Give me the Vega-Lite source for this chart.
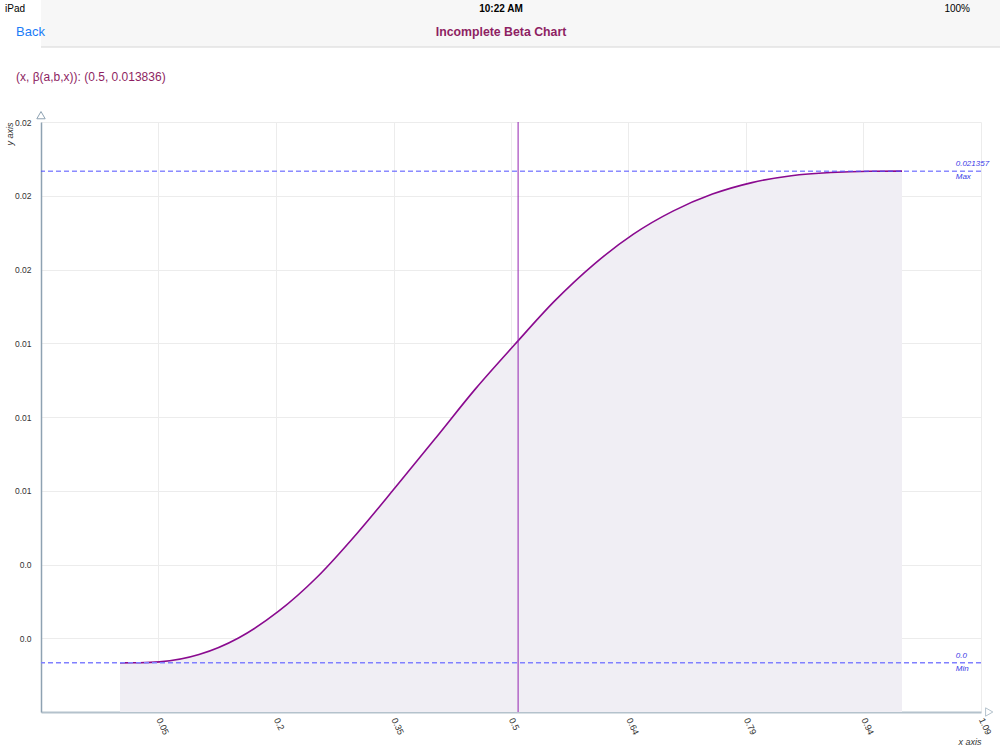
{
  "$schema": "https://vega.github.io/schema/vega-lite/v6.json",
  "background": "white",
  "padding": {"left": 5, "top": 0, "right": 0, "bottom": 0},
  "config": {"font": "Liberation Sans", "view": {"stroke": null}},
  "datasets": {
    "header": [
      {"label": "iPad", "col": "left", "bar": "status"},
      {"label": "10:22 AM", "col": "center", "bar": "status"},
      {"label": "100%", "col": "right", "bar": "status"},
      {"label": "Back", "col": "left", "bar": "nav"},
      {"label": "Incomplete Beta Chart", "col": "center", "bar": "nav"}
    ],
    "curve": [
      {"x": 0.0, "y": 0.0},
      {"x": 0.025, "y": 0.000005},
      {"x": 0.05, "y": 0.00004},
      {"x": 0.1, "y": 0.00036},
      {"x": 0.15, "y": 0.00108},
      {"x": 0.2, "y": 0.00222},
      {"x": 0.25, "y": 0.00374},
      {"x": 0.3, "y": 0.00562},
      {"x": 0.35, "y": 0.00768},
      {"x": 0.4, "y": 0.00978},
      {"x": 0.45, "y": 0.0119},
      {"x": 0.5, "y": 0.013836},
      {"x": 0.55, "y": 0.01571},
      {"x": 0.6, "y": 0.01731},
      {"x": 0.65, "y": 0.01862},
      {"x": 0.7, "y": 0.01962},
      {"x": 0.75, "y": 0.02036},
      {"x": 0.8, "y": 0.02086},
      {"x": 0.85, "y": 0.02116},
      {"x": 0.9, "y": 0.0213},
      {"x": 0.95, "y": 0.021352},
      {"x": 0.99, "y": 0.021357}
    ],
    "levels": [
      {"name": "Max", "value": 0.021357, "label": "0.021357"},
      {"name": "Min", "value": 0.0, "label": "0.0"}
    ],
    "cursor": [{"x": 0.504, "y": 0.013836}]
  },
  "concat": [
    {
      "width": 960,
      "height": 47,
      "view": {"fill": "#f7f7f7", "stroke": null},
      "data": {"name": "header"},
      "encoding": {
        "x": {"field": "col", "type": "nominal", "scale": {"type": "point", "domain": ["left", "center", "right"], "padding": 0}, "axis": null},
        "y": {"field": "bar", "type": "nominal", "scale": {"type": "point", "domain": ["status", "nav", "edge"], "padding": 0}, "axis": null}
      },
      "layer": [
        {"transform": [{"filter": "datum.label === 'iPad'"}], "mark": {"type": "text", "align": "left", "baseline": "middle", "dx": -36, "dy": 9, "fontSize": 10, "color": "#000000"}, "encoding": {"text": {"field": "label"}}},
        {"transform": [{"filter": "datum.label === '10:22 AM'"}], "mark": {"type": "text", "align": "center", "baseline": "middle", "dx": -20, "dy": 9, "fontSize": 10, "fontWeight": "bold", "color": "#000000"}, "encoding": {"text": {"field": "label"}}},
        {"transform": [{"filter": "datum.label === '100%'"}], "mark": {"type": "text", "align": "right", "baseline": "middle", "dx": -31, "dy": 9, "fontSize": 10, "color": "#000000"}, "encoding": {"text": {"field": "label"}}},
        {"transform": [{"filter": "datum.label === 'Back'"}], "mark": {"type": "text", "align": "left", "baseline": "middle", "dx": -25, "dy": 8, "fontSize": 13, "color": "#1b7cf7"}, "encoding": {"text": {"field": "label"}}},
        {"transform": [{"filter": "datum.label === 'Incomplete Beta Chart'"}], "mark": {"type": "text", "align": "center", "baseline": "middle", "dx": -20, "dy": 8, "fontSize": 12.3, "fontWeight": "bold", "color": "#8e1f63"}, "encoding": {"text": {"field": "label"}}},
        {"data": {"values": [{}]}, "mark": {"type": "rule", "color": "#d6d6d6", "strokeWidth": 1}, "encoding": {"x": null, "y": {"datum": "edge", "type": "nominal"}}}
      ]
    },
    {
      "width": 940,
      "height": 590,
      "title": {"text": "(x, β(a,b,x)): (0.5, 0.013836)", "anchor": "start", "frame": "group", "dx": -25, "offset": 26, "fontSize": 12, "fontWeight": "normal", "color": "#8e1f63"},
      "layer": [
        {
          "data": {"name": "curve"},
          "mark": {"type": "area", "color": "#f0eef4", "interpolate": "monotone"},
          "encoding": {
            "x": {"field": "x", "type": "quantitative",
              "scale": {"domain": [-0.1, 1.09], "nice": false, "zero": false},
              "axis": {"values": [-0.1, 0.04875, 0.1975, 0.34625, 0.495, 0.64375, 0.7925, 0.94125, 1.09],
                "labelExpr": "datum.value < 0 ? '' : format(datum.value + 0.000001, '.2~f')",
                "grid": true, "gridColor": "#ececec", "ticks": false, "tickSize": 0,
                "domainColor": "#b4c2cc", "domainWidth": 2,
                "labelAngle": 65, "labelAlign": "left", "labelBaseline": "middle", "labelPadding": 6,
                "labelFontSize": 9, "labelColor": "#333333", "labelFlush": false, "labelOverlap": false,
                "title": "x axis", "titleAnchor": "end", "titleFontStyle": "italic", "titleFontWeight": "normal", "titleFontSize": 9, "titleColor": "#333333", "titlePadding": 2}},
            "y": {"field": "y", "type": "quantitative",
              "scale": {"domain": [-0.0021357, 0.0234927], "nice": false, "zero": false},
              "axis": {"values": [-0.0021357, 0.00106785, 0.0042714, 0.00747495, 0.0106785, 0.01388205, 0.0170856, 0.02028915, 0.0234927],
                "labelExpr": "datum.value < 0 ? '' : (datum.value < 0.005 ? '0.0' : format(datum.value, '.2f'))",
                "grid": true, "gridColor": "#ececec", "ticks": false, "tickSize": 0,
                "domainColor": "#8ea2b2", "domainWidth": 1.5,
                "labelPadding": 10, "labelFontSize": 8.5, "labelColor": "#333333", "labelOverlap": false, "labelFlush": false,
                "title": "y axis", "titleAnchor": "end", "titleFontStyle": "italic", "titleFontWeight": "normal", "titleFontSize": 9, "titleColor": "#333333", "titlePadding": 0}},
            "y2": {"datum": -0.0021357}
          }
        },
        {
          "data": {"name": "curve"},
          "mark": {"type": "line", "color": "#8a0a8f", "strokeWidth": 1.6, "interpolate": "monotone"},
          "encoding": {"x": {"field": "x", "type": "quantitative"}, "y": {"field": "y", "type": "quantitative"}}
        },
        {
          "data": {"name": "levels"},
          "transform": [{"filter": "datum.name === 'Max'"}],
          "mark": {"type": "rule", "color": "#5050ff", "strokeWidth": 1, "strokeDash": [5, 3]},
          "encoding": {"y": {"field": "value", "type": "quantitative"}}
        },
        {
          "data": {"name": "levels"},
          "transform": [{"filter": "datum.name === 'Min'"}],
          "mark": {"type": "rule", "color": "#8080ff", "strokeWidth": 1.5, "strokeDash": [5, 3]},
          "encoding": {"y": {"field": "value", "type": "quantitative"}}
        },
        {
          "data": {"name": "levels"},
          "mark": {"type": "text", "align": "left", "baseline": "middle", "dy": -7, "fontSize": 8, "fontStyle": "italic", "color": "#3a3ae6"},
          "encoding": {"x": {"datum": 1.058}, "y": {"field": "value", "type": "quantitative"}, "text": {"field": "label"}}
        },
        {
          "data": {"name": "levels"},
          "mark": {"type": "text", "align": "left", "baseline": "middle", "dy": 6, "fontSize": 8, "fontStyle": "italic", "color": "#3a3ae6"},
          "encoding": {"x": {"datum": 1.058}, "y": {"field": "value", "type": "quantitative"}, "text": {"field": "name"}}
        },
        {
          "data": {"name": "cursor"},
          "mark": {"type": "rule", "color": "#9424b0", "strokeWidth": 1},
          "encoding": {"x": {"field": "x", "type": "quantitative"}}
        },
        {
          "data": {"values": [{}]},
          "mark": {"type": "point", "shape": "triangle-up", "size": 70, "filled": true, "fill": "white", "stroke": "#8ea2b2", "strokeWidth": 1, "opacity": 1, "clip": false},
          "encoding": {"x": {"datum": -0.1}, "y": {"datum": 0.02379}}
        },
        {
          "data": {"values": [{}]},
          "mark": {"type": "point", "shape": "triangle-right", "size": 70, "filled": true, "fill": "white", "stroke": "#b4c2cc", "strokeWidth": 1, "opacity": 1, "clip": false},
          "encoding": {"x": {"datum": 1.1004}, "y": {"datum": -0.0021357}}
        }
      ]
    }
  ],
  "columns": 1,
  "spacing": 22
}
